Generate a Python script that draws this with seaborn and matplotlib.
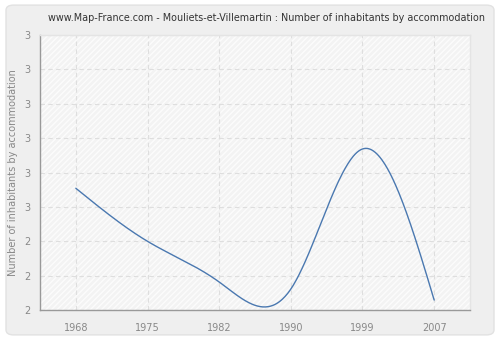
import numpy as np
import pandas as pd
import matplotlib
matplotlib.use("Agg")
import matplotlib.pyplot as plt
from matplotlib.patches import FancyBboxPatch, Rectangle
import seaborn as sns

# ---- data ----
years = ["1968", "1975", "1982", "1990", "1999", "2007"]
values = [2.62, 2.35, 2.143, 2.107, 2.82, 2.051]
y_ticks = [2.0, 2.175, 2.35, 2.525, 2.7, 2.875, 3.05, 3.225, 3.4]
y_tick_labels = ["2", "2", "2", "3", "3", "3", "3", "3", "3"]
title = "www.Map-France.com - Mouliets-et-Villemartin : Number of inhabitants by accommodation"
y_label = "Number of inhabitants by accommodation"


def natural_spline(x, y, n=400):
    x = np.asarray(x, float)
    y = np.asarray(y, float)
    k = len(x)
    h = np.diff(x)
    A = np.zeros((k, k))
    b = np.zeros(k)
    A[0, 0] = 1
    A[-1, -1] = 1
    for i in range(1, k - 1):
        A[i, i - 1] = h[i - 1]
        A[i, i] = 2 * (h[i - 1] + h[i])
        A[i, i + 1] = h[i]
        b[i] = 6 * ((y[i + 1] - y[i]) / h[i] - (y[i] - y[i - 1]) / h[i - 1])
    M = np.linalg.solve(A, b)
    xs = np.linspace(x[0], x[-1], n)
    ys = np.empty_like(xs)
    for j, xv in enumerate(xs):
        i = min(np.searchsorted(x, xv, side="right") - 1, k - 2)
        t0 = x[i + 1] - xv
        t1 = xv - x[i]
        ys[j] = (M[i] * t0 ** 3 / (6 * h[i]) + M[i + 1] * t1 ** 3 / (6 * h[i])
                 + (y[i] / h[i] - M[i] * h[i] / 6) * t0
                 + (y[i + 1] / h[i] - M[i + 1] * h[i] / 6) * t1)
    return xs, ys


sns.set_style("white")
plt.rcParams["font.family"] = ["DejaVu Sans"]
plt.rcParams["hatch.linewidth"] = 1.0

fig = plt.figure(figsize=(5, 3.4), dpi=100)
fig.patch.set_facecolor("white")
bg = FancyBboxPatch((0.012, 0.015), 0.976, 0.97,
                    boxstyle="round,pad=0,rounding_size=0.015",
                    transform=fig.transFigure, facecolor="#efefef",
                    edgecolor="#e2e2e2", linewidth=1.0, zorder=-10)
fig.patches.append(bg)

ax = fig.add_axes([0.08, 0.088, 0.86, 0.809])
ax.set_zorder(1)
ax.set_facecolor("#f3f3f3")
ax.add_patch(Rectangle((0, 0), 1, 1, transform=ax.transAxes, facecolor="none",
                       edgecolor="#fcfcfc", hatch="//////", linewidth=0, zorder=0))

xi = np.arange(len(years))
xs, ys = natural_spline(xi, values)
df = pd.DataFrame({"x": xs, "y": ys})
sns.lineplot(data=df, x="x", y="y", ax=ax, color="#4a78b0", linewidth=1.0,
             zorder=3, estimator=None, sort=False)

ax.set_xlim(-0.5, len(years) - 0.5)
ax.set_ylim(y_ticks[0], y_ticks[-1])
ax.set_xticks(xi)
ax.set_xticklabels(years)
ax.set_yticks(y_ticks)
ax.set_yticklabels(y_tick_labels)

ax.grid(True, color="#dedede", linestyle=(0, (4, 3)), linewidth=0.8, zorder=1)
ax.set_axisbelow(True)

for s in ["left", "bottom"]:
    ax.spines[s].set_color("#999999")
    ax.spines[s].set_linewidth(1.0)
for s in ["right", "top"]:
    ax.spines[s].set_color("#e4e4e4")
    ax.spines[s].set_linewidth(1.0)

ax.tick_params(axis="both", colors="#999999", labelcolor="#888888",
               labelsize=7, length=4, width=1, direction="out", pad=3)
ax.tick_params(axis="x", pad=5)

ax.set_xlabel("")
ax.set_ylabel(y_label, color="#888888", fontsize=7, labelpad=4)
fig.text(0.532, 0.948, title, ha="center", va="center", fontsize=6.9, color="#333333")

fig.savefig("out.png", dpi=100, facecolor=fig.get_facecolor())
